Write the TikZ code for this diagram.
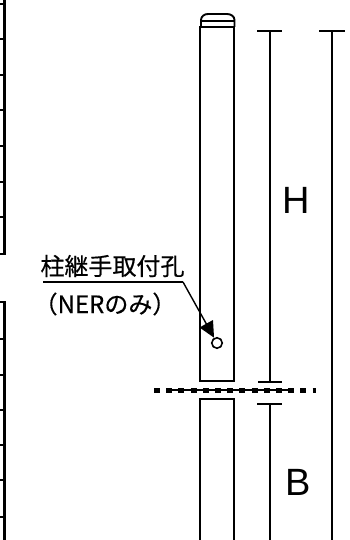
\documentclass[tikz,border=0pt]{standalone}
\usepackage{fontspec}
\setmainfont{Liberation Sans}
\newfontfamily\cjk[FakeBold=0.4]{Noto Sans CJK JP}
\usetikzlibrary{arrows.meta}
\tikzset{
  post/.style={line width=1.9pt},
  dimline/.style={line width=1.6pt},
  frameline/.style={line width=2.6pt},
  cutline/.style={line width=5pt, dash pattern=on 6pt off 6.2pt},
  dimlabel/.style={font=\fontsize{38}{38}\selectfont, inner sep=0pt},
  holelabel/.style={font=\cjk\fontsize{24}{24}\selectfont, inner sep=0pt, anchor=center}
}

\begin{document}
\begin{tikzpicture}[x=1pt, y=-1pt]
  \useasboundingbox (0,0) rectangle (350,540);

  % frames on the left edge
  \draw [frameline] (4.5,0) -- (4.5,254) -- (0,254);
  \foreach \i in {4,39,75,110,146,182,217} {
    \draw [frameline] (0,\i) -- (4.5,\i);
  }
  \draw [frameline] (0,302) -- (4.5,302) -- (4.5,540);
  \foreach \i in {339,375,410,445,480,517} {
    \draw [frameline] (0,\i) -- (4.5,\i);
  }

  % post
  \draw [post] (200,27) rectangle (234,381);
  \draw [post] (201,27) -- (201,20) to [out=90, in=180] (208,14) -- (227,14) to [out=0, in=90] (234.5,20) -- (234.5,27);
  \draw [post] (201,21) -- (234.5,21);
  \draw [post] (200,540) -- (200,399) -- (234,399) -- (234,540);

  % dimensions
  \draw [dimline] (270,31) -- (270,382);
  \draw [dimline] (257,31) -- (282,31);
  \draw [dimline] (258,382) -- (282,382);
  \draw [dimline] (270,404) -- (270,540);
  \draw [dimline] (257,404) -- (282,404);
  \draw [dimline] (332,31) -- (332,540);
  \draw [dimline] (319,31) -- (345,31);
  \node [dimlabel] (hlabel) at (296,200.5) {H};
  \node [dimlabel] (blabel) at (298,482) {B};

  % cut line
  \draw [cutline] (154,390) -- (316,390);
  \draw [line width=1.5pt] (167,390) -- (294,390);

  % hole with leader
  \node [circle, draw, line width=1.6pt, minimum size=10.5pt, inner sep=0pt, fill=white] (hole) at (217,343) {};
  \node [holelabel] (title) at (112.5,266) {柱継手取付孔};
  \node [holelabel] (note) at (105,304) {（NERのみ）};
  \coordinate (bend) at (183,282);
  \coordinate (start) at (43,282);
  \draw [line width=1.8pt] (start) -- (bend);
  \draw [line width=1.4pt, -{Triangle[length=16pt, width=15pt]}] (bend) -- (hole);
\end{tikzpicture}
\end{document}
